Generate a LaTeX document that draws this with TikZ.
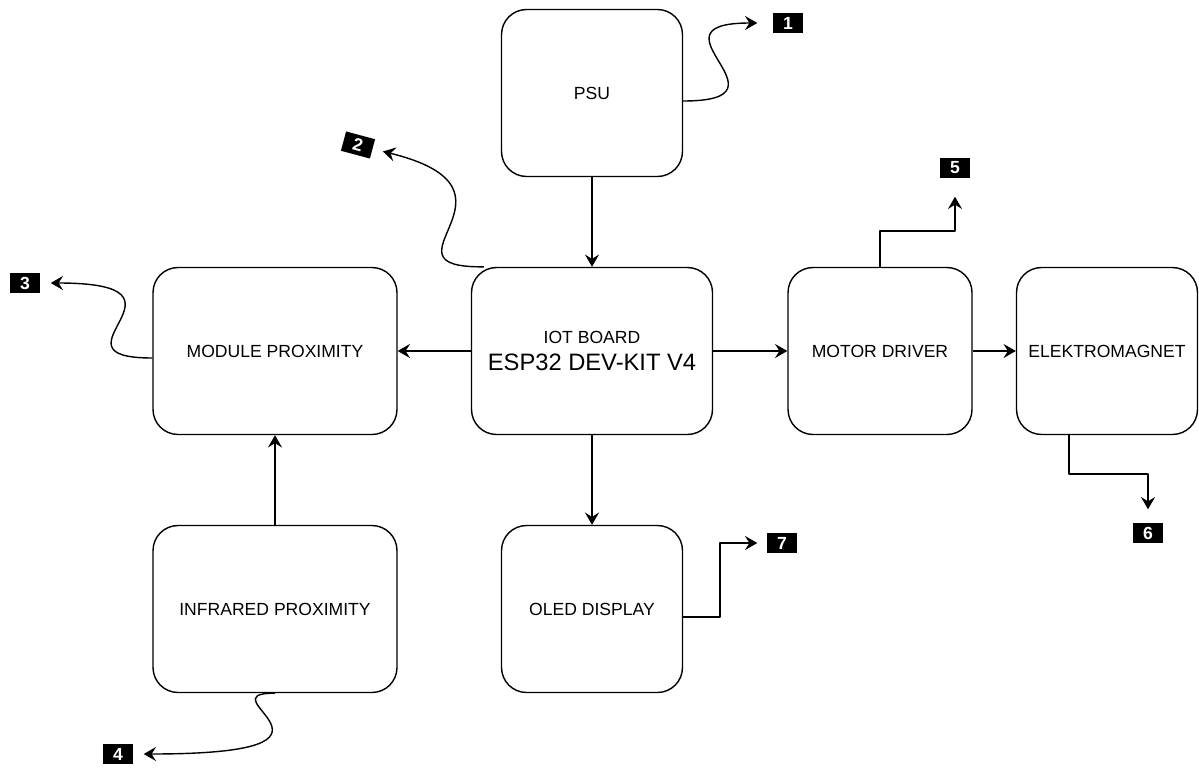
\documentclass[tikz,border=0pt]{standalone}
\usepackage{fontspec}
\setmainfont{Liberation Sans}
\usetikzlibrary{arrows.meta,calc}
\begin{document}
\begin{tikzpicture}[x=0.02cm,y=-0.02cm,>={Stealth[length=7pt,width=8pt,inset=2.5pt]},line width=0.8pt,line join=round,
		block/.style={draw,rounded corners=0.5cm,minimum height=3.34cm,inner sep=0pt,align=center,font=\fontsize{10}{12}\selectfont},
		tag/.style={fill=black,text=white,inner sep=0pt,minimum width=0.6cm,minimum height=0.4cm,font=\bfseries\fontsize{10}{10}\selectfont}]
		\useasboundingbox (0,0) rectangle (1199,767);
		\node[block,minimum width=3.62cm] (psu) at (592,93) {PSU};
		\node[block,minimum width=4.82cm] (iot) at (592,351) {IOT BOARD\\[3pt]{\fontsize{13.5}{14}\selectfont ESP32 DEV-KIT V4}};
		\node[block,minimum width=3.62cm] (oled) at (592,609) {OLED DISPLAY};
		\node[block,minimum width=4.88cm] (mod) at (275,351) {MODULE PROXIMITY};
		\node[block,minimum width=4.88cm] (ir) at (275,609) {INFRARED PROXIMITY};
		\node[block,minimum width=3.68cm] (mot) at (880,351) {MOTOR DRIVER};
		\node[block,minimum width=3.62cm] (ele) at (1107,351) {ELEKTROMAGNET};
		\node[tag] (t1) at (788,23) {1};
		\node[tag,rotate=-15] (t2) at (358,145) {2};
		\node[tag] (t3) at (25,283) {3};
		\node[tag] (t4) at (118,754) {4};
		\node[tag] (t5) at (955,168) {5};
		\node[tag] (t6) at (1148,533) {6};
		\node[tag] (t7) at (782,543) {7};
		\draw[->](psu)--(iot);
		\draw[->](iot)--(mod);
		\draw[->](iot)--(mot);
		\draw[->](mot)--(ele);
		\draw[->](iot)--(oled);
		\draw[->](ir)--(mod);
		\draw[->,shorten >=0.3cm]($(psu.east)+(0,8)$) .. controls (800,101) and (640,23) .. (t1.west);
		\draw[->,shorten >=0.2cm]($(iot.north west)+(13,0)$) .. controls (370,268) and (540,190) .. (t2.east);
		\draw[->,shorten >=0.2cm]($(mod.west)+(0,7)$) .. controls (40,358) and (210,283) .. (t3.east);
		\draw[->,shorten >=0.2cm](ir.south) .. controls (200,693) and (380,754) .. (t4.east);
		\draw[->,shorten >=0.36cm](mot.north)--++(0,-36)-|(t5.south);
		\draw[->,shorten >=0.26cm]($(ele.south)+(-38,0)$)--++(0,39)-|(t6.north);
		\draw[->,shorten >=0.18cm]($(oled.east)+(0,8)$)--++(37,0)|-(t7.west);
\end{tikzpicture}
\end{document}
